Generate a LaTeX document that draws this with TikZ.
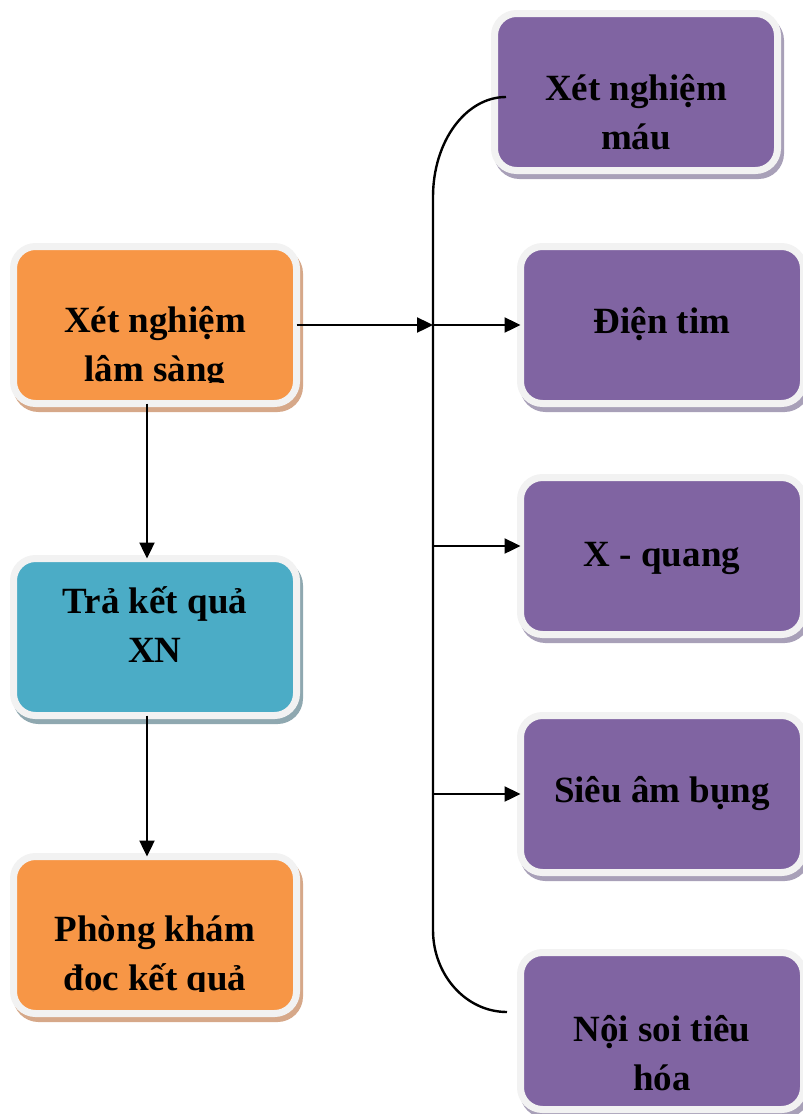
\documentclass[tikz,border=0pt]{standalone}
\usepackage{fontspec}
\setmainfont{Liberation Serif}
\usetikzlibrary{positioning, arrows.meta, shadows}
\definecolor{mOrange}{HTML}{F79646}
\definecolor{mOrangeSh}{HTML}{D6A889}
\definecolor{mTeal}{HTML}{4BACC6}
\definecolor{mTealSh}{HTML}{8FA8B0}
\definecolor{mViolet}{HTML}{8064A2}
\definecolor{mVioletSh}{HTML}{A8A0B8}
\definecolor{mRim}{HTML}{F2F2F2}

\begin{document}
\begin{tikzpicture}[x=1pt, y=-1pt,
  box/.style={draw=mRim, line width=7pt, rounded corners=22pt, minimum width=283pt,
              minimum height=157pt, inner sep=0pt, outer sep=0pt},
  orangebox/.style={box, fill=mOrange, drop shadow={shadow xshift=3pt, shadow yshift=-5pt,
                    fill=mOrangeSh, draw=mOrangeSh, opacity=1}},
  tealbox/.style={box, fill=mTeal, drop shadow={shadow xshift=3pt, shadow yshift=-5pt,
                  fill=mTealSh, draw=mTealSh, opacity=1}},
  violetbox/.style={box, fill=mViolet, drop shadow={shadow xshift=3pt, shadow yshift=-5pt,
                    fill=mVioletSh, draw=mVioletSh, opacity=1}},
  boxtext/.style={font=\fontsize{37}{49}\selectfont\bfseries, align=center, anchor=base,
                  inner sep=0pt},
  arr/.style={-{Triangle[length=16pt, width=15pt]}, line width=2.4pt},
  link/.style={line width=2.4pt},
]
  \useasboundingbox (0,0) rectangle (803,1114);

  % left column
  \node[orangebox] (lam) at (155,325) {};
  \node[tealbox] (tra) at (155,637) {};
  \node[orangebox] (phong) at (155,935) {};

  % right column
  \node[violetbox] (mau) at (636,92) {};
  \node[violetbox] (dien) at (662,325) {};
  \node[violetbox] (xq) at (662,556) {};
  \node[violetbox] (sieu) at (662,794) {};
  \node[violetbox] (noi) at (662,1031) {};

  % texts (base = last line)
  \begin{scope}
    \clip (17,250) rectangle (291,382);
    \node[boxtext] (lamtext) at (155,381) {Xét nghiệm\\lâm sàng};
  \end{scope}
  \node[boxtext] (tratext) at (155,662) {Trả kết quả\\XN};
  \begin{scope}
    \clip (17,860) rectangle (291,991);
    \node[boxtext] (phongtext) at (155,990) {Phòng khám\\đọc kết quả};
  \end{scope}
  \node[boxtext] (mautext) at (636,149) {Xét nghiệm\\máu};
  \node[boxtext] (dientext) at (662,333) {Điện tim};
  \node[boxtext] (xqtext) at (662,566) {X - quang};
  \node[boxtext] (sieutext) at (662,802) {Siêu âm bụng};
  \node[boxtext] (noitext) at (662,1090) {Nội soi tiêu\\hóa};

  % trunk
  \coordinate (trunktop) at (433,197);
  \coordinate (trunkbot) at (433,930);
  \coordinate (xqin) at ([yshift=10pt]xq.west);
  \draw[link] ([xshift=11.5pt, yshift=-5pt]mau.west) .. controls +(-40,0) and +(0,-56) .. (trunktop)
    -- (trunkbot) .. controls +(0,45) and +(-41,0) .. ([xshift=-13.5pt, yshift=19pt]noi.west);

  % connectors
  \draw[arr] (lam.east) -- (lam.east -| trunktop);
  \draw[arr] (trunktop |- dien.west) -- (dien.west);
  \draw[arr] (trunktop |- xqin) -- (xqin);
  \draw[arr] (trunktop |- sieu.west) -- (sieu.west);
  \draw[arr] ([xshift=-8pt]lam.south) -- ([xshift=-8pt]tra.north);
  \draw[arr] ([xshift=-8pt]tra.south) -- ([xshift=-8pt]phong.north);
\end{tikzpicture}
\end{document}
